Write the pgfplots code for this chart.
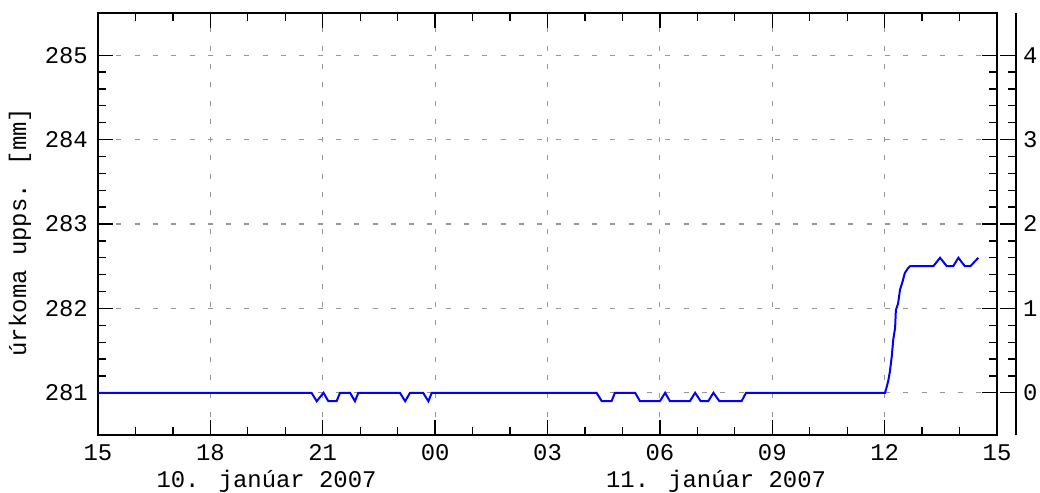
\documentclass[border=0pt]{standalone}
\usepackage{pgfplots}
\pgfplotsset{compat=1.18}
\usepackage{fontspec}
\setmainfont{Liberation Mono}
\definecolor{gridgray}{RGB}{150,150,150}
\definecolor{lineblue}{RGB}{0,0,255}
\newcommand{\chf}{\fontsize{24}{24}\selectfont}
\begin{document}
\begin{tikzpicture}
\useasboundingbox (-98bp,-58bp) rectangle (942bp,435bp);
\begin{axis}[
  at={(0,0)}, anchor=south west,
  scale only axis, width=899bp, height=422bp,
  xmin=0, xmax=24, ymin=280.5, ymax=285.5,
  xtick={0,3,...,24},
  xticklabels={15,18,21,00,03,06,09,12,15},
  minor x tick num=2,
  ytick={281,282,283,284,285},
  minor y tick num=4,
  tick align=inside,
  major tick length=15bp, minor tick length=8bp,
  every tick/.style={black, line width=1.3bp},
  axis line style={black, line width=1.6bp},
  grid=major,
  major grid style={gridgray, line width=1.2bp, dash pattern=on 5bp off 13.3bp},
  font=\chf,
  /pgf/number format/assume math mode=true,
  yticklabel style={anchor=east, inner sep=0pt, xshift=-10bp},
  xticklabel style={anchor=center, inner sep=0pt, yshift=-18bp},
  ylabel={úrkoma upps. [mm]},
  ylabel style={at={(axis description cs:-0.0868,0.481)}, anchor=center, rotate=0},
  clip=false,
]
\addplot[lineblue, line width=2bp] coordinates {
 (0,281) (5.70,281) (5.84,280.9) (6.02,281) (6.15,280.9) (6.37,280.9) (6.46,281)
 (6.73,281) (6.86,280.9) (6.95,281)
 (8.06,281) (8.20,280.9) (8.33,281) (8.68,281) (8.82,280.9) (8.91,281)
 (13.31,281) (13.45,280.9) (13.71,280.9) (13.80,281) (14.34,281) (14.47,280.9)
 (15.00,280.9) (15.14,281) (15.27,280.9) (15.80,280.9) (15.94,281) (16.09,280.9)
 (16.29,280.9) (16.43,281) (16.59,280.9) (17.18,280.9) (17.30,281)
 (21.01,281) (21.05,281.06) (21.10,281.15) (21.14,281.25) (21.19,281.43)
 (21.23,281.63) (21.28,281.77) (21.30,281.98) (21.36,282.06) (21.41,282.22)
 (21.48,282.32) (21.54,282.42) (21.63,282.48) (21.68,282.5)
 (22.30,282.5) (22.48,282.6) (22.66,282.5) (22.83,282.5) (22.97,282.6)
 (23.14,282.5) (23.29,282.5) (23.50,282.6)
};
\node[anchor=center, yshift=-46bp, font=\chf] at (axis cs:4.5,280.5) {10. janúar 2007};
\node[anchor=center, yshift=-46bp, font=\chf] at (axis cs:16.5,280.5) {11. janúar 2007};
\end{axis}
\begin{axis}[
  at={(19bp,0)}, anchor=south west,
  scale only axis, width=899bp, height=422bp,
  xmin=0, xmax=24, ymin=-0.5, ymax=4.5,
  axis x line=none,
  axis y line*=right,
  ytick={0,1,2,3,4},
  minor y tick num=4,
  tick align=inside,
  major tick length=16bp, minor tick length=8bp,
  every tick/.style={black, line width=1.3bp},
  axis line style={black, line width=1.6bp},
  font=\chf,
  /pgf/number format/assume math mode=true,
  yticklabel style={anchor=west, inner sep=0pt, xshift=7bp},
]
\addplot[draw=none] coordinates {(0,0)};
\end{axis}
\end{tikzpicture}
\end{document}
